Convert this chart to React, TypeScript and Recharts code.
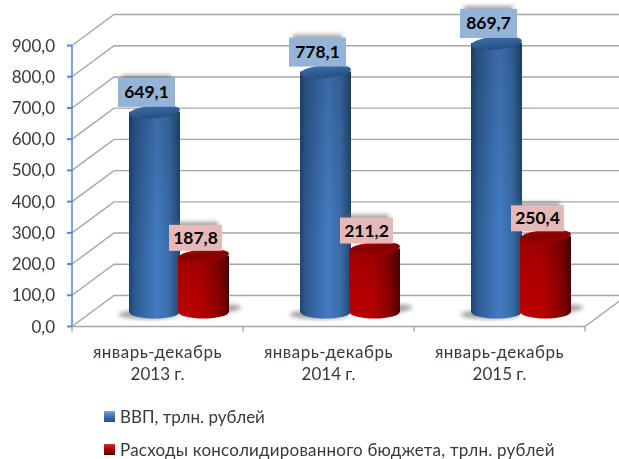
import React from "react";
import { BarChart, Bar, XAxis, YAxis, CartesianGrid, LabelList, Legend } from "recharts";

const categories = ["январь-декабрь|2013 г.", "январь-декабрь|2014 г.", "январь-декабрь|2015 г."];
const gdp = [649.1, 778.1, 869.7];
const spending = [187.8, 211.2, 250.4];
const yTicks = [0, 100, 200, 300, 400, 500, 600, 700, 800, 900];
const gdpName = "ВВП, трлн. рублей";
const spendingName = "Расходы консолидированного бюджета, трлн. рублей";

const data = categories.map((c, i) => ({ c, gdp: gdp[i], spending: spending[i] }));

const FONT = "Lato, 'Noto Sans', sans-serif";
const TEXT = "#333a40";
const GRID = "#a6a6a6";
const DX = 42;
const DY = 31;
const MX = 21;
const MY = 15;
const BAND = 171;

const fmt = (v: number) => v.toFixed(1).replace(".", ",");

const GridLine = (p: any) => (
  <g>
    <polyline
      points={`${p.x1},${p.y1} ${p.x1 + DX},${p.y1 - DY} ${p.x2 + DX},${p.y2 - DY}`}
      fill="none"
      stroke={GRID}
      strokeWidth={1.4}
    />
    {p.y1 > 320 && <line x1={p.x1} x2={p.x2} y1={p.y1} y2={p.y2} stroke={GRID} strokeWidth={1.4} />}
  </g>
);

const Cylinder = (p: any, prefix: string) => {
  const rx = p.width / 2;
  const cx = p.x + rx + MX;
  const top = p.y - MY + 3;
  const bottom = p.y + p.height - MY;
  const left = cx - rx;
  const right = cx + rx;
  const isBlue = prefix === "b";
  const body = `M${left},${top} L${left},${bottom} A${rx},7 0 0 0 ${right},${bottom} L${right},${top} Z`;
  return (
    <g>
      <ellipse
        cx={isBlue ? cx - 6 : cx + 8}
        cy={isBlue ? bottom + 3 : bottom - 1}
        rx={30}
        ry={4.5}
        transform={`rotate(${isBlue ? 0 : -5} ${cx} ${bottom})`}
        fill="#a0a0a0"
        filter="url(#blur2)"
      />
      <path d={body} fill={`url(#${prefix}Body)`} />
      <path d={body} fill="url(#shade)" />
      <ellipse cx={cx} cy={top} rx={rx} ry={6.5} transform={`rotate(-5 ${cx} ${top})`} fill={`url(#${prefix}Lid)`} />
    </g>
  );
};

const ValueLabel = (p: any, fill: string, w: number, h: number) => {
  const cx = p.x + p.width / 2 + MX - 8;
  const bottom = p.y - MY - 2;
  return (
    <g>
      <rect x={cx - w / 2 + 4} y={bottom - h - 3} width={w - 8} height={8} fill="#666" opacity={0.6} filter="url(#blur2)" />
      <rect x={cx - w / 2} y={bottom - h} width={w} height={h} fill={fill} />
      <text x={cx} y={bottom - h / 2 + 6} textAnchor="middle" fontFamily={FONT} fontWeight={700} fontSize={17.5} fill="#000">
        {fmt(p.value)}
      </text>
    </g>
  );
};

const CategoryTick = (p: any) => {
  const [a, b] = String(p.payload.value).split("|");
  const last = p.index === categories.length - 1;
  const base = p.y - 8;
  return (
    <g>
      <line x1={p.x - BAND / 2} x2={p.x - BAND / 2} y1={base} y2={base + 5} stroke={GRID} strokeWidth={1.4} />
      {last && (
        <>
          <line x1={p.x + BAND / 2} x2={p.x + BAND / 2} y1={base} y2={base + 5} stroke={GRID} strokeWidth={1.4} />
          <line x1={p.x + BAND / 2} x2={p.x + BAND / 2 + DX} y1={base} y2={base - DY} stroke={GRID} strokeWidth={1.4} />
        </>
      )}
      <text textAnchor="middle" fontFamily={FONT} fontSize={17} fill={TEXT}>
        <tspan x={p.x} y={p.y + 23} letterSpacing={0.5}>{a}</tspan>
        <tspan x={p.x} y={p.y + 45}>{b}</tspan>
      </text>
    </g>
  );
};

const LegendBox = ({ payload }: any) => (
  <div style={{ fontFamily: FONT, fontSize: 17, color: TEXT }}>
    {(payload || []).map((e: any, i: number) => (
      <div
        key={e.value}
        style={{ display: "flex", alignItems: "center", height: 33, whiteSpace: "nowrap", letterSpacing: i === 0 ? 0 : 0.22 }}
      >
        <span
          style={{
            width: 11,
            height: 11,
            marginRight: 5,
            background:
              i === 0
                ? "linear-gradient(180deg,#7fa6d8 0%,#3f74b4 45%,#234f82 100%)"
                : "linear-gradient(180deg,#e03030 0%,#a80000 45%,#5a0000 100%)",
          }}
        />
        {e.value}
      </div>
    ))}
  </div>
);

export default function App() {
  return (
    <div style={{ position: "absolute", left: 0, top: 0, width: 619, height: 459, overflow: "hidden", filter: "blur(0.35px)" }}>
      <BarChart
        width={619}
        height={459}
        data={data}
        margin={{ top: 45.5, right: 34, left: 0, bottom: 92.5 }}
        barSize={51}
        barGap={-2}
      >
        <defs>
          <filter id="blur2" x="-30%" y="-100%" width="160%" height="300%">
            <feGaussianBlur stdDeviation="2" />
          </filter>
          <linearGradient id="shade" x1="0" y1="0" x2="0" y2="1">
            <stop offset="0" stopColor="#000" stopOpacity={0.14} />
            <stop offset="0.7" stopColor="#000" stopOpacity={0} />
          </linearGradient>
          <linearGradient id="bBody" x1="0" y1="0" x2="1" y2="0">
            <stop offset="0" stopColor="#1f4470" />
            <stop offset="0.12" stopColor="#2c5a90" />
            <stop offset="0.55" stopColor="#447cc2" />
            <stop offset="0.8" stopColor="#3a6ca8" />
            <stop offset="1" stopColor="#1f4670" />
          </linearGradient>
          <linearGradient id="bLid" x1="0" y1="0" x2="0" y2="1">
            <stop offset="0" stopColor="#3a6ea8" />
            <stop offset="1" stopColor="#264f80" />
          </linearGradient>
          <linearGradient id="rBody" x1="0" y1="0" x2="1" y2="0">
            <stop offset="0" stopColor="#b80000" />
            <stop offset="0.45" stopColor="#b40000" />
            <stop offset="0.8" stopColor="#8a0000" />
            <stop offset="1" stopColor="#4d0000" />
          </linearGradient>
          <linearGradient id="rLid" x1="0" y1="0" x2="0" y2="1">
            <stop offset="0" stopColor="#b00000" />
            <stop offset="0.45" stopColor="#820000" />
            <stop offset="1" stopColor="#9c0000" />
          </linearGradient>
        </defs>
        <CartesianGrid vertical={false} horizontal={GridLine as any} />
        <XAxis dataKey="c" height={40} interval={0} tick={CategoryTick as any} tickLine={false} axisLine={false} />
        <YAxis
          width={72}
          domain={[0, 900]}
          ticks={yTicks}
          interval={0}
          tickFormatter={fmt}
          tickSize={5}
          tickMargin={12}
          tick={{ fontFamily: FONT, fontSize: 17, fill: TEXT }}
          tickLine={{ stroke: "#4f8ad0", strokeWidth: 2 }}
          axisLine={{ stroke: "#4f8ad0", strokeWidth: 1.5 }}
        />
        <Legend
          layout="vertical"
          align="center"
          verticalAlign="middle"
          content={LegendBox as any}
          wrapperStyle={{ position: "absolute", left: 104, top: 400, width: 500, height: 66 }}
        />
        <Bar dataKey="gdp" name={gdpName} isAnimationActive={false} fill="#3f74b4" shape={(p: any) => Cylinder(p, "b")}>
          <LabelList dataKey="gdp" content={(p: any) => ValueLabel(p, "#95b3d7", 57, 29)} />
        </Bar>
        <Bar dataKey="spending" name={spendingName} isAnimationActive={false} fill="#a80000" shape={(p: any) => Cylinder(p, "r")}>
          <LabelList dataKey="spending" content={(p: any) => ValueLabel(p, "#e6b9b8", 53, 26)} />
        </Bar>
      </BarChart>
    </div>
  );
}
